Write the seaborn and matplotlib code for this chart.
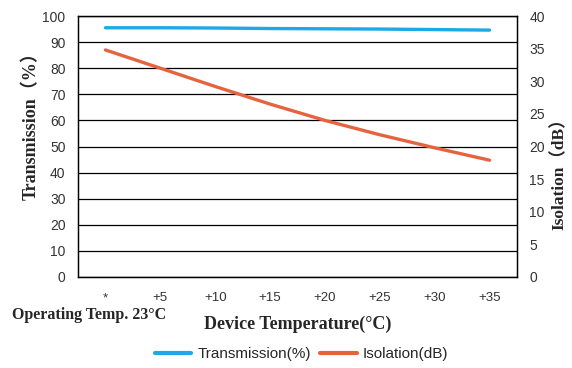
import numpy as np
import pandas as pd
import matplotlib
matplotlib.use("Agg")
import matplotlib.pyplot as plt
import seaborn as sns
from matplotlib.lines import Line2D

temps = ["*", "+5", "+10", "+15", "+20", "+25", "+30", "+35"]
transmission = [95.5, 95.5, 95.4, 95.2, 95.1, 95.0, 94.8, 94.6]
isolation = [34.8, 32.0, 29.2, 26.5, 24.0, 21.8, 19.8, 17.9]

blue = "#1CA9E6"
red = "#E5643F"

sns.set_style("white")
plt.rcParams["font.family"] = ["Liberation Sans", "DejaVu Sans"]
serif = ["Liberation Serif", "Noto Sans CJK SC", "DejaVu Serif"]

df = pd.DataFrame({"temp": temps, "trans": transmission, "iso": isolation})
df["pos"] = np.arange(len(temps))

fig = plt.figure(figsize=(5.72, 3.68), dpi=100)
ax = fig.add_axes([0.1364, 0.2473, 0.7674, 0.7092])
ax2 = ax.twinx()

sns.lineplot(data=df, x="pos", y="trans", ax=ax, color=blue, linewidth=2.4)
sns.lineplot(data=df, x="pos", y="iso", ax=ax2, color=red, linewidth=2.4)

ax.set_xlim(-0.5, len(temps) - 0.5)
ax.set_ylim(0, 100)
ax2.set_ylim(0, 40)
ax.set_yticks(np.arange(0, 101, 10))
ax2.set_yticks(np.arange(0, 41, 5))
ax.grid(axis="y", color="black", linewidth=0.9)
ax.set_axisbelow(True)

ax.set_xticks(df["pos"])
ax.set_xticklabels(temps)
ax.set_xticks(np.arange(0.5, len(temps) - 0.5, 1), minor=True)
ax.tick_params(axis="x", which="major", length=0, pad=11, labelsize=9.5, colors="#333333")
ax.tick_params(axis="x", which="minor", length=5, direction="in", color="black", width=0.9)
ax.tick_params(axis="y", length=0, pad=9, labelsize=10, colors="#333333")
ax2.tick_params(axis="y", length=0, pad=9, labelsize=10, colors="#333333")

for a in (ax, ax2):
    for s in a.spines.values():
        s.set_color("black")
        s.set_linewidth(0.9)

ax.set_xlabel("")
ax.set_ylabel("Transmission（%）", family=serif, fontweight="bold", fontsize=13)
ax.yaxis.set_label_coords(-0.087, 0.594)
ax2.set_ylabel("Isolation（dB）", family=serif, fontweight="bold", fontsize=12.5)
ax2.yaxis.set_label_coords(1.078, 0.41)

fig.text(0.021, 0.132, "Operating Temp. 23°C", family=serif, fontweight="bold", fontsize=11.5)
fig.text(0.52, 0.105, "Device Temperature(°C)", family=serif, fontweight="bold", fontsize=13, ha="center")

handles = [Line2D([], [], color=blue, linewidth=3), Line2D([], [], color=red, linewidth=3)]
fig.legend(handles, ["Transmission(%)", "Isolation(dB)"], loc="center", bbox_to_anchor=(0.527, 0.037),
           ncol=2, frameon=False, fontsize=11, handlelength=2.4, handletextpad=0.4, columnspacing=0.6)

fig.savefig("out.png", dpi=100)
